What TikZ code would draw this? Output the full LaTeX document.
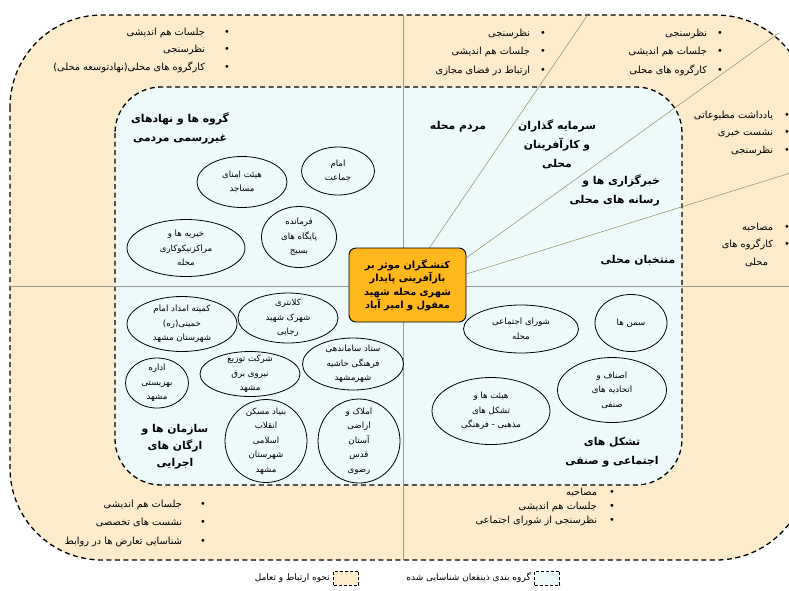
\documentclass[tikz,border=0pt]{standalone}
\usepackage{fontspec}
\usetikzlibrary{shapes.geometric}
\newfontfamily\fafont[Script=Arabic]{DejaVu Sans}
\TeXXeTstate=1
\newcommand\RL[1]{\beginR #1\endR}
\definecolor{peach}{RGB}{253,236,204}
\definecolor{cyanbg}{RGB}{238,250,250}
\definecolor{orng}{RGB}{255,184,28}
\definecolor{olivel}{RGB}{150,140,100}
\begin{document}
\begin{tikzpicture}[x=1pt,y=-1pt,
  dashbox/.style={draw=black, line width=1.3pt, dash pattern=on 5pt off 3.5pt},
  ell/.style={draw=black, line width=0.8pt, ellipse, inner sep=0pt},
  etext/.style={font=\fafont\fontsize{8.6}{14.5}\selectfont, align=center, inner sep=0pt},
  hdr/.style={font=\fafont\bfseries\fontsize{10.8}{19}\selectfont, align=center, inner sep=0pt},
  lst/.style={font=\fafont\fontsize{9.8}{17.5}\selectfont, inner sep=0pt},
  divline/.style={draw=gray!80, line width=0.6pt},
  rayline/.style={draw=olivel, line width=0.5pt},
  legtxt/.style={font=\fafont\fontsize{9}{11}\selectfont, inner sep=0pt}
]
\useasboundingbox (0,0) rectangle (789,590);
\clip (0,0) rectangle (789,590);
\fill[white] (0,0) rectangle (789,590);

% outer region
\path[dashbox, fill=peach, rounded corners=92pt] (10,15) rectangle (808,560);
% inner region
\path[dashbox, fill=cyanbg, rounded corners=46pt] (115,87) rectangle (682,485);

% dividers
\coordinate (hl) at (10,286);
\coordinate (hr) at (789,286);
\coordinate (vt) at (403,15);
\coordinate (vb) at (403,560);
\draw[divline] (hl) -- (hr);
\draw[divline] (vt) -- (vb);

% rays
\coordinate (r1a) at (428,250);
\coordinate (r1b) at (589,13);
\coordinate (r2a) at (455,266);
\coordinate (r2b) at (779,33);
\coordinate (r3a) at (460,276);
\coordinate (r3b) at (800,170);
\draw[rayline] (r1a) -- (r1b);
\draw[rayline] (r2a) -- (r2b);
\draw[rayline] (r3a) -- (r3b);

% center box
\node[draw=black, line width=0.9pt, fill=orng, rounded corners=7pt,
      minimum width=117pt, minimum height=74pt, inner sep=0pt,
      font=\fafont\bfseries\fontsize{9.8}{13.5}\selectfont, align=center]
  (ctr) at (407.5,285)
  {\RL{کنشـگران موثر بر}\\\RL{بازآفرینی پایدار}\\\RL{شهری محله شهید}\\\RL{معقول و امیر آباد}};

% headers
\node[hdr] (h1) at (180,128) {\RL{گروه ها و نهادهای}\\\RL{غیررسمی مردمی}};
\node[hdr] (h2) at (458,127) {\RL{مردم محله}};
\node[hdr] (h3) at (557,144) {\RL{سرمایه گذاران}\\\RL{و کارآفرینان}\\\RL{محلی}};
\node[hdr, align=right, anchor=east] (h4) at (660,190) {\RL{خبرگزاری ها و}\\\RL{رسانه های محلی}};
\node[hdr] (h5) at (638,260) {\RL{منتخبان محلی}};
\node[hdr, font=\fafont\bfseries\fontsize{10.8}{17}\selectfont] (h6) at (175,447) {\RL{سازمان ها و}\\\RL{ارگان های}\\\RL{اجرایی}};
\node[hdr] (h7) at (612,452) {\RL{تشکل های}\\\RL{اجتماعی و صنفی}};

% ellipses upper-left
\node[ell, minimum width=73pt, minimum height=48pt] (e1) at (338,171) {};
\node[etext] (e1t) at (e1) {\RL{امام}\\\RL{جماعت}};
\node[ell, minimum width=90pt, minimum height=51pt] (e2) at (242,182) {};
\node[etext] (e2t) at (e2) {\RL{هیئت امنای}\\\RL{مساجد}};
\node[ell, minimum width=118pt, minimum height=57pt] (e3) at (186,248) {};
\node[etext] (e3t) at (e3) {\RL{خیریه ها و}\\\RL{مراکزنیکوکاری}\\\RL{محله}};
\node[ell, minimum width=75pt, minimum height=61pt] (e4) at (299,237) {};
\node[etext] (e4t) at (e4) {\RL{فرمانده}\\\RL{پایگاه های}\\\RL{بسیج}};

% ellipses lower-left
\node[ell, minimum width=110pt, minimum height=55pt] (e5) at (182,324) {};
\node[etext] (e5t) at (e5) {\RL{کمیته امداد امام}\\\RL{خمینی(ره)}\\\RL{شهرستان مشهد}};
\node[ell, minimum width=100pt, minimum height=50pt] (e6) at (288,318) {};
\node[etext] (e6t) at (e6) {\RL{کلانتری}\\\RL{شهرک شهید}\\\RL{رجایی}};
\node[ell, minimum width=101pt, minimum height=52pt] (e7) at (353,364) {};
\node[etext] (e7t) at (e7) {\RL{ستاد ساماندهی}\\\RL{فرهنگی حاشیه}\\\RL{شهرمشهد}};
\node[ell, minimum width=100pt, minimum height=45pt] (e8) at (250,374) {};
\node[etext] (e8t) at (e8) {\RL{شرکت توزیع}\\\RL{نیروی برق}\\\RL{مشهد}};
\node[ell, minimum width=63pt, minimum height=50pt] (e9) at (157,383) {};
\node[etext] (e9t) at (e9) {\RL{اداره}\\\RL{بهزیستی}\\\RL{مشهد}};
\node[ell, minimum width=82pt, minimum height=83pt] (e10) at (266,441) {};
\node[etext] (e10t) at (e10) {\RL{بنیاد مسکن}\\\RL{انقلاب}\\\RL{اسلامی}\\\RL{شهرستان}\\\RL{مشهد}};
\node[ell, minimum width=82pt, minimum height=84pt] (e11) at (359,441) {};
\node[etext] (e11t) at (e11) {\RL{املاک و}\\\RL{اراضی}\\\RL{آستان}\\\RL{قدس}\\\RL{رضوی}};

% ellipses lower-right
\node[ell, minimum width=115pt, minimum height=48pt] (e12) at (521,329) {};
\node[etext] (e12t) at (e12) {\RL{شورای اجتماعی}\\\RL{محله}};
\node[ell, minimum width=72pt, minimum height=57pt] (e13) at (631,323) {};
\node[etext] (e13t) at (e13) {\RL{سمن ها}};
\node[ell, minimum width=109pt, minimum height=65pt] (e14) at (612,390) {};
\node[etext] (e14t) at (e14) {\RL{اصناف و}\\\RL{اتحادیه های}\\\RL{صنفی}};
\node[ell, minimum width=118pt, minimum height=67pt] (e15) at (491,411) {};
\node[etext] (e15t) at (e15) {\RL{هیئت ها و}\\\RL{تشکل های}\\\RL{مذهبی - فرهنگی}};

% bullet lists
\node[lst, anchor=east] (la) at (230,49) {\begin{tabular}{@{}r@{\hspace{19pt}}c@{}}
\RL{جلسات هم اندیشی} & • \\
\RL{نظرسنجی} & • \\
\RL{کارگروه های محلی(نهادتوسعه محلی)} & •
\end{tabular}};
\node[lst, anchor=east, font=\fafont\fontsize{9.8}{18.5}\selectfont] (lb) at (546,51) {\begin{tabular}{@{}r@{\hspace{10pt}}c@{}}
\RL{نظرسنجی} & • \\
\RL{جلسات هم اندیشی} & • \\
\RL{ارتباط در فضای مجازی} & •
\end{tabular}};
\node[lst, anchor=east, font=\fafont\fontsize{9.8}{18.5}\selectfont] (lc) at (723,51) {\begin{tabular}{@{}r@{\hspace{10pt}}c@{}}
\RL{نظرسنجی} & • \\
\RL{جلسات هم اندیشی} & • \\
\RL{کارگروه های محلی} & •
\end{tabular}};
\node[lst, anchor=east] (ld) at (790,132) {\begin{tabular}{@{}r@{\hspace{11pt}}c@{}}
\RL{یادداشت مطبوعاتی} & • \\
\RL{نشست خبری} & • \\
\RL{نظرسنجی} & •
\end{tabular}};
\node[lst, anchor=north east] (le) at (790,218) {\begin{tabular}{@{}r@{\hspace{11pt}}c@{}}
\RL{مصاحبه} & • \\
\RL{کارگروه های} & • \\
\RL{محلی}\hspace{5pt} &
\end{tabular}};
\node[lst, anchor=east, font=\fafont\fontsize{9.8}{18.5}\selectfont] (lf) at (206,522) {\begin{tabular}{@{}r@{\hspace{18pt}}c@{}}
\RL{جلسات هم اندیشی} & • \\
\RL{نشست های تخصصی} & • \\
\RL{شناسایی تعارض ها در روابط} & •
\end{tabular}};
\node[lst, anchor=east, font=\fafont\fontsize{9.8}{14}\selectfont] (lg) at (615,507) {\begin{tabular}{@{}r@{\hspace{12pt}}c@{}}
\RL{مصاحبه} & • \\
\RL{جلسات هم اندیشی} & • \\
\RL{نظرسنجی از شورای اجتماعی} & •
\end{tabular}};

% legend
\node[draw=black, line width=0.8pt, dash pattern=on 3pt off 2pt, fill=peach,
      minimum width=25pt, minimum height=14pt, inner sep=0pt] (lgp) at (346,578) {};
\node[legtxt, anchor=east] (lgpt) at (330,578) {\RL{نحوه ارتباط و تعامل}};
\node[draw=black, line width=0.8pt, dash pattern=on 3pt off 2pt, fill=cyanbg,
      minimum width=25pt, minimum height=14pt, inner sep=0pt] (lgc) at (547,578) {};
\node[legtxt, anchor=east] (lgct) at (531,578) {\RL{گروه بندی ذینفعان شناسایی شده}};
\end{tikzpicture}
\end{document}
